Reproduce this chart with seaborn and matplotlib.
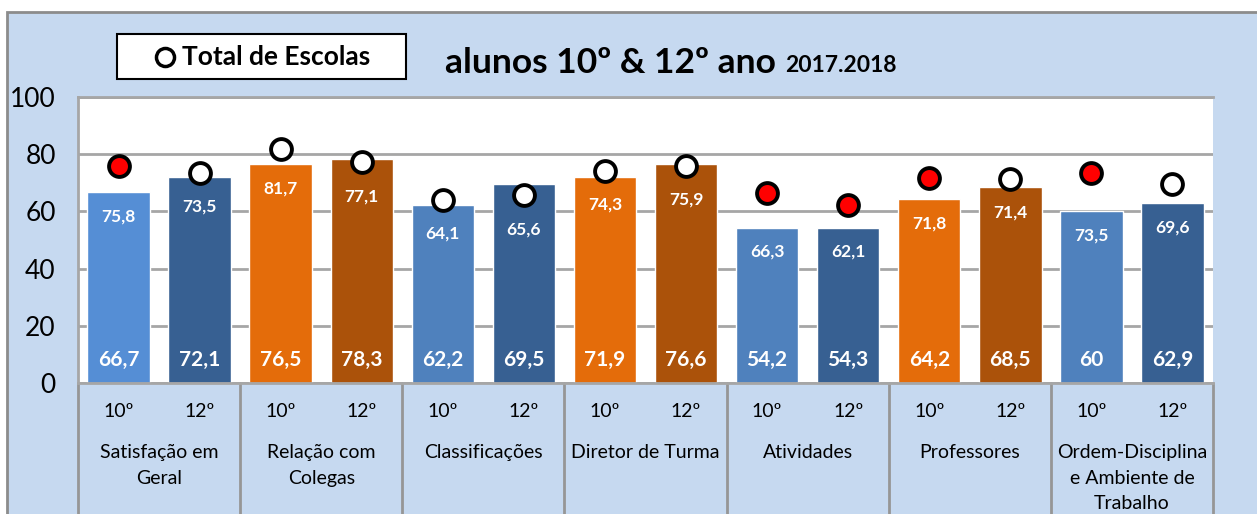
import matplotlib
matplotlib.use("Agg")
import matplotlib.pyplot as plt
import matplotlib.patches as mpatches
import matplotlib.transforms as mtransforms
import seaborn as sns

# Dados
grupos = ["Satisfação em\nGeral", "Relação com\nColegas", "Classificações",
          "Diretor de Turma", "Atividades", "Professores",
          "Ordem-Disciplina\ne Ambiente de\nTrabalho"]
anos = ["10º", "12º"]
alunos = [66.7, 72.1, 76.5, 78.3, 62.2, 69.5, 71.9, 76.6, 54.2, 54.3, 64.2, 68.5, 60, 62.9]
total_escolas = [75.8, 73.5, 81.7, 77.1, 64.1, 65.6, 74.3, 75.9, 66.3, 62.1, 71.8, 71.4, 73.5, 69.6]
cores = ["#558ED5", "#376092", "#E46C0A", "#AB520A", "#4F81BD", "#376092", "#E46C0A",
         "#AB520A", "#4F81BD", "#376092", "#E46C0A", "#AB520A", "#4F81BD", "#376092"]

sns.set_style("white")
plt.rcParams['font.family'] = ['Lato', 'DejaVu Sans']
plt.rcParams['text.color'] = 'black'
plt.rcParams['ytick.color'] = 'black'


def fmt(v):
    return f"{v:g}".replace(".", ",")


W, H = 1257, 514
fig = plt.figure(figsize=(W / 100, H / 100), dpi=100)
fig.patch.set_facecolor("white")
fig.patches.append(mpatches.Rectangle((7 / W, -0.02), 1.1, (H - 12) / H + 0.02,
                                      transform=fig.transFigure, facecolor="#C6D9F0",
                                      edgecolor="#8C8C8C", lw=2, zorder=-5))

ax = fig.add_axes([78 / W, 131 / H, (1213 - 78) / W, 286 / H])
ax.set_facecolor("white")

posicoes = list(range(len(alunos)))
sns.barplot(x=posicoes, y=alunos, hue=posicoes, palette=cores, legend=False,
            width=0.77, native_scale=True, saturation=1, ax=ax, zorder=2)

# pontos do total de escolas + rótulos
px = 286 / 100  # pixels por unidade
for i, (a, t) in enumerate(zip(alunos, total_escolas)):
    face = "#FF0000" if t - a > 7 else "white"
    ax.plot(i, t, "o", ms=15, mfc=face, mec="black", mew=2.8, zorder=4, clip_on=False)
    y_lab = min(t - 34 / px, a - 24 / px)
    ax.text(i, y_lab, fmt(t), ha="center", va="center", color="white",
            fontsize=12.5, fontweight="bold", zorder=5)
    ax.annotate(fmt(a), (i, 0), xytext=(0, 23), textcoords="offset pixels",
                ha="center", va="center", color="white", fontsize=15,
                fontweight="bold", zorder=5)

ax.set_xlim(-0.5, len(alunos) - 0.5)
ax.set_ylim(0, 100)
ax.set_yticks([0, 20, 40, 60, 80, 100])
ax.tick_params(axis="y", length=0, pad=16, labelsize=19)
ax.set_xticks([])
ax.set_xlabel("")
ax.grid(axis="y", color="#A6A6A6", lw=2, zorder=1)
ax.set_axisbelow(True)
for s in ax.spines.values():
    s.set_color("#A6A6A6")
    s.set_linewidth(2)
ax.spines["right"].set_visible(False)

# eixo categórico em dois níveis
trans = mtransforms.blended_transform_factory(ax.transData, ax.transAxes)
for k in range(len(grupos) + 1):
    ax.plot([2 * k - 0.5, 2 * k - 0.5], [0, -0.5], color="#969696", lw=2,
            transform=trans, clip_on=False)
for i in posicoes:
    ax.text(i, -0.101, anos[i % 2], transform=trans, ha="center", va="center",
            fontsize=14)
for g, nome in enumerate(grupos):
    ax.text(2 * g + 0.5, -0.213, nome, transform=trans, ha="center", va="top",
            fontsize=14, linespacing=1.62)

# legenda e título
fig.patches.append(mpatches.Rectangle((117 / W, 1 - 79 / H), 289 / W, 45 / H,
                                      transform=fig.transFigure, facecolor="white",
                                      edgecolor="black", lw=1.5, zorder=1))
fig.text(182 / W, 1 - 57 / H, "Total de Escolas", fontsize=19, fontweight="bold",
         va="center", ha="left")
fig.lines.append(plt.Line2D([165 / W], [1 - 57 / H], marker="o", ms=13, mfc="white",
                            mec="black", mew=2.5, transform=fig.transFigure, zorder=2))
fig.text(445 / W, 1 - 63 / H, "alunos 10º & 12º ano", fontsize=25.5, fontweight="bold",
         va="center", ha="left")
fig.text(785 / W, 1 - 65 / H, "2017.2018", fontsize=16.5, fontweight="bold",
         va="center", ha="left")

fig.savefig("out.png", dpi=100)
